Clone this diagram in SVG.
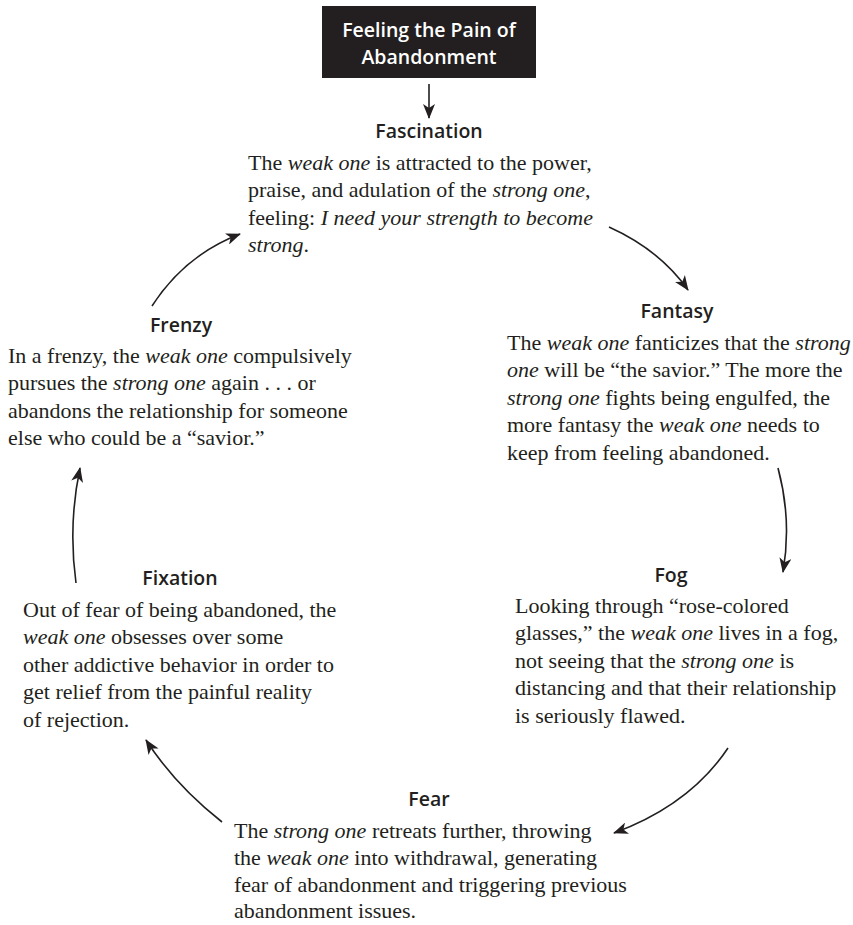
<svg xmlns="http://www.w3.org/2000/svg" width="853" height="925" viewBox="0 0 853 925">
<style>
.h{font-family:"Open Sans","Liberation Sans",sans-serif;font-weight:600;font-size:19.5px;fill:#231f20;text-anchor:middle}
.t{font-family:"Liberation Serif","Times New Roman",serif;font-size:22px;fill:#231f20}
.i{font-style:italic}
.c{fill:none;stroke:#231f20;stroke-width:1.6}
</style>
<defs>
<marker id="ah" markerUnits="userSpaceOnUse" markerWidth="16" markerHeight="12" refX="14" refY="6" orient="auto">
<path d="M0,0 L15,6 L0,12 L4,6 Z" fill="#231f20"/>
</marker>
</defs>
<rect width="853" height="925" fill="#fff"/>
<g id="start">
<rect x="322" y="6" width="214" height="72" fill="#231f20"/>
<text class="h" x="429" y="37" style="fill:#fff">Feeling the Pain of</text>
<text class="h" x="429" y="64" style="fill:#fff">Abandonment</text>
</g>
<g id="fascination">
<text class="h" x="429" y="138">Fascination</text>
<text class="t" x="248" y="170">The <tspan class="i">weak one</tspan> is attracted to the power,</text>
<text class="t" x="248" y="197">praise, and adulation of the <tspan class="i">strong one</tspan>,</text>
<text class="t" x="248" y="225">feeling: <tspan class="i">I need your strength to become</tspan></text>
<text class="t" x="248" y="252"><tspan class="i">strong</tspan>.</text>
</g>
<g id="fantasy">
<text class="h" x="677" y="318">Fantasy</text>
<text class="t" x="507" y="350">The <tspan class="i">weak one</tspan> fanticizes that the <tspan class="i">strong</tspan></text>
<text class="t" x="507" y="377"> <tspan class="i">one</tspan> will be “the savior.” The more the</text>
<text class="t" x="507" y="405"><tspan class="i">strong one</tspan> fights being engulfed, the</text>
<text class="t" x="507" y="432">more fantasy the <tspan class="i">weak one</tspan> needs to</text>
<text class="t" x="507" y="460">keep from feeling abandoned.</text>
</g>
<g id="fog">
<text class="h" x="671" y="582">Fog</text>
<text class="t" x="515" y="613">Looking through “rose-colored</text>
<text class="t" x="515" y="640">glasses,” the <tspan class="i">weak one</tspan> lives in a fog,</text>
<text class="t" x="515" y="668">not seeing that the <tspan class="i">strong one</tspan> is</text>
<text class="t" x="515" y="695">distancing and that their relationship</text>
<text class="t" x="515" y="723">is seriously flawed.</text>
</g>
<g id="fear">
<text class="h" x="429" y="806">Fear</text>
<text class="t" x="234" y="838">The <tspan class="i">strong one</tspan> retreats further, throwing</text>
<text class="t" x="234" y="865">the <tspan class="i">weak one</tspan> into withdrawal, generating</text>
<text class="t" x="234" y="892">fear of abandonment and triggering previous</text>
<text class="t" x="234" y="918">abandonment issues.</text>
</g>
<g id="fixation">
<text class="h" x="180" y="585">Fixation</text>
<text class="t" x="23" y="617">Out of fear of being abandoned, the</text>
<text class="t" x="23" y="644"><tspan class="i">weak one</tspan> obsesses over some</text>
<text class="t" x="23" y="672">other addictive behavior in order to</text>
<text class="t" x="23" y="699">get relief from the painful reality</text>
<text class="t" x="23" y="727">of rejection.</text>
</g>
<g id="frenzy">
<text class="h" x="181" y="332">Frenzy</text>
<text class="t" x="8" y="363">In a frenzy, the <tspan class="i">weak one</tspan> compulsively</text>
<text class="t" x="8" y="390">pursues the <tspan class="i">strong one</tspan> again . . . or</text>
<text class="t" x="8" y="418">abandons the relationship for someone</text>
<text class="t" x="8" y="445">else who could be a “savior.”</text>
</g>
<g id="connectors">
<path class="c" d="M429,84 L429,118" marker-end="url(#ah)"/>
<path class="c" d="M609,227 Q660,250 688,290" marker-end="url(#ah)"/>
<path class="c" d="M778,468 Q792,520 783,572" marker-end="url(#ah)"/>
<path class="c" d="M728,748 Q690,805 614,833" marker-end="url(#ah)"/>
<path class="c" d="M222,822 Q175,785 146,740" marker-end="url(#ah)"/>
<path class="c" d="M76,583 Q68,525 80,468" marker-end="url(#ah)"/>
<path class="c" d="M152,306 Q185,255 240,234" marker-end="url(#ah)"/>
</g>
</svg>
